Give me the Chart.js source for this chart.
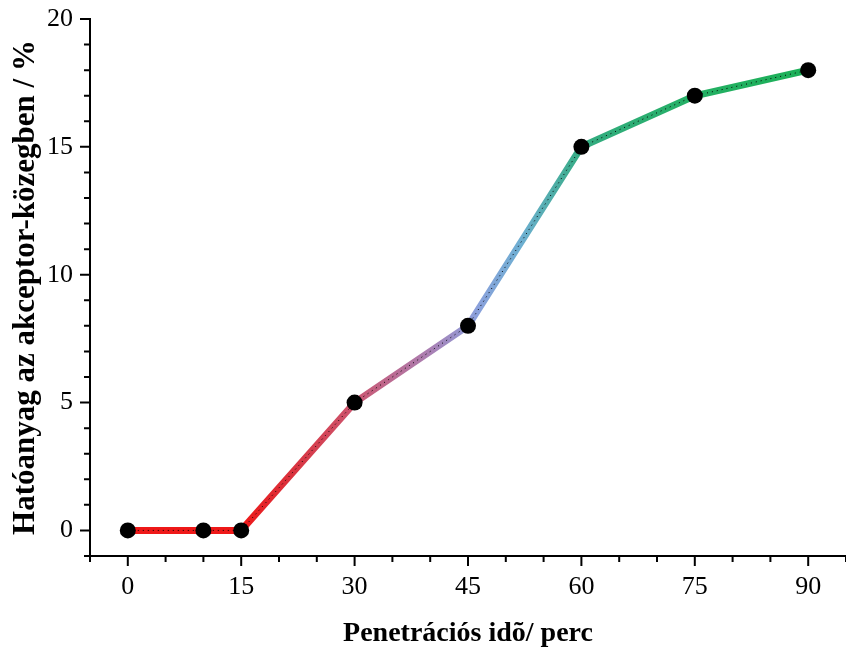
<!DOCTYPE html>
<html>
<head>
<meta charset="utf-8">
<script src="https://cdn.jsdelivr.net/npm/chart.js@4"></script>
<style>
  body { margin: 0; background: #fff; }
  canvas { display: block; }
</style>
</head>
<body>
<canvas id="chart" width="846" height="651"></canvas>
<script>
const times = [0, 10, 15, 30, 45, 60, 75, 90];
const released = [0, 0, 0, 5, 8, 15, 17, 18];
const xTickLabels = [0, 15, 30, 45, 60, 75, 90];
const yTickLabels = [0, 5, 10, 15, 20];

// colour stops along the time axis
const colorStops = [
    [15, 'rgb(238,24,24)'],
    [22, 'rgb(218,52,64)'],
    [30, 'rgb(204,86,112)'],
    [40, 'rgb(170,128,180)'],
    [46, 'rgb(140,160,220)'],
    [52, 'rgb(110,175,210)'],
    [60, 'rgb(52,172,130)'],
    [75, 'rgb(36,176,100)'],
    [90, 'rgb(28,176,88)']
];

const points = times.map((t, i) => ({ x: t, y: released[i] }));

function lineGradient(ctx) {
    const chart = ctx.chart;
    const area = chart.chartArea;
    if (!area) return 'red';
    const xs = chart.scales.x;
    const g = chart.ctx.createLinearGradient(area.left, 0, area.right, 0);
    const w = area.right - area.left;
    colorStops.forEach(([v, c]) => {
        const p = (xs.getPixelForValue(v) - area.left) / w;
        g.addColorStop(Math.min(1, Math.max(0, p)), c);
    });
    return g;
}

// draws outward ticks, long at labelled values, short otherwise
const tickPlugin = {
    id: 'ticks',
    afterDraw(chart) {
        const c = chart.ctx;
        const xs = chart.scales.x, ys = chart.scales.y;
        const area = chart.chartArea;
        c.save();
        c.strokeStyle = '#000';
        c.lineWidth = 2;
        c.beginPath();
        xs.ticks.forEach(t => {
            const px = xs.getPixelForValue(t.value);
            const len = xTickLabels.includes(t.value) ? 10 : 6;
            c.moveTo(px, area.bottom);
            c.lineTo(px, area.bottom + len);
        });
        ys.ticks.forEach(t => {
            const py = ys.getPixelForValue(t.value);
            const len = yTickLabels.includes(t.value) ? 10 : 6;
            c.moveTo(area.left, py);
            c.lineTo(area.left - len, py);
        });
        c.stroke();
        c.restore();
    }
};

const serif = 'Liberation Serif';

new Chart(document.getElementById('chart'), {
    type: 'line',
    data: {
        datasets: [
            {
                data: points,
                borderColor: '#000',
                borderWidth: 1,
                borderDash: [1, 4],
                pointRadius: 8,
                pointBackgroundColor: '#000',
                pointBorderWidth: 0,
                clip: false,
                order: 0
            },
            {
                data: points,
                borderColor: lineGradient,
                borderWidth: 7,
                pointRadius: 0,
                clip: false,
                order: 1
            }
        ]
    },
    options: {
        responsive: false,
        animation: false,
        layout: { autoPadding: false, padding: { top: 19, right: 0, left: 0, bottom: 0 } },
        plugins: { legend: { display: false }, tooltip: { enabled: false } },
        scales: {
            x: {
                type: 'linear',
                min: -5,
                max: 95,
                afterFit: s => { s.height = 95; s.paddingLeft = 0; s.paddingRight = 0; },
                border: { color: '#000', width: 2 },
                grid: { display: true, drawOnChartArea: false, drawTicks: false },
                ticks: {
                    stepSize: 5,
                    maxTicksLimit: 50,
                    autoSkip: false,
                    maxRotation: 0,
                    padding: 16,
                    color: '#000',
                    font: { family: serif, size: 26 },
                    callback: v => xTickLabels.includes(v) ? String(v) : ''
                },
                title: {
                    display: true,
                    text: 'Penetrációs idõ/ perc',
                    color: '#000',
                    font: { family: serif, size: 28, weight: 'bold' },
                    padding: { top: 0, bottom: 0 }
                }
            },
            y: {
                min: -1,
                max: 20,
                afterFit: s => { s.width = 90; s.paddingTop = 0; s.paddingBottom = 0; },
                border: { color: '#000', width: 2 },
                grid: { display: true, drawOnChartArea: false, drawTicks: false },
                ticks: {
                    stepSize: 1,
                    maxTicksLimit: 50,
                    autoSkip: false,
                    padding: 17,
                    color: '#000',
                    font: { family: serif, size: 26 },
                    callback: v => yTickLabels.includes(v) ? String(v) : ''
                },
                title: {
                    display: true,
                    text: 'Hatóanyag az akceptor-közegben / %',
                    color: '#000',
                    font: { family: serif, size: 31, weight: 'bold' },
                    padding: { top: 7, bottom: 0 }
                }
            }
        }
    },
    plugins: [tickPlugin]
});
</script>
</body>
</html>
